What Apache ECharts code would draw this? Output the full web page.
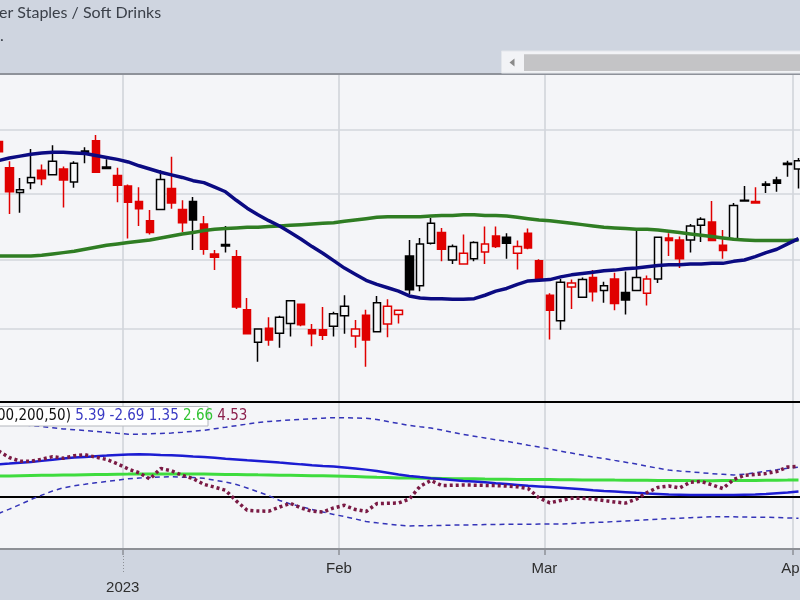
<!DOCTYPE html>
<html><head><meta charset="utf-8">
<script src="https://cdn.jsdelivr.net/npm/echarts@6/dist/echarts.min.js"></script>
<style>html,body{margin:0;padding:0;background:#cfd5e0}#c{width:800px;height:600px}</style>
</head><body><div id="c"></div>
<script>
// ---------------- data ----------------
const dates = [
 '2022-12-14','2022-12-15','2022-12-16','2022-12-19','2022-12-20','2022-12-21','2022-12-22','2022-12-23','2022-12-27','2022-12-28','2022-12-29','2022-12-30',
 '2023-01-03','2023-01-04','2023-01-05','2023-01-06','2023-01-09','2023-01-10','2023-01-11','2023-01-12','2023-01-13','2023-01-17','2023-01-18','2023-01-19','2023-01-20','2023-01-23','2023-01-24','2023-01-25','2023-01-26','2023-01-27','2023-01-30','2023-01-31',
 '2023-02-01','2023-02-02','2023-02-03','2023-02-06','2023-02-07','2023-02-08','2023-02-09','2023-02-10','2023-02-13','2023-02-14','2023-02-15','2023-02-16','2023-02-17','2023-02-21','2023-02-22','2023-02-23','2023-02-24','2023-02-27','2023-02-28',
 '2023-03-01','2023-03-02','2023-03-03','2023-03-06','2023-03-07','2023-03-08','2023-03-09','2023-03-10','2023-03-13','2023-03-14','2023-03-15','2023-03-16','2023-03-17','2023-03-20','2023-03-21','2023-03-22','2023-03-23','2023-03-24','2023-03-27','2023-03-28','2023-03-29','2023-03-30','2023-03-31',
 '2023-04-03'
];
const opens = [35.81,35.40,35.02,35.17,35.36,35.29,35.38,35.18,35.66,35.82,35.39,35.28,
 35.12,34.88,34.59,34.76,35.08,34.76,34.88,34.54,34.09,34.21,34.05,33.27,32.80,33.00,32.93,33.07,33.35,32.98,32.98,33.03,
 33.18,32.89,33.19,32.95,33.06,33.20,34.06,33.62,34.25,34.41,34.00,33.94,34.02,34.12,34.36,34.34,34.10,34.40,33.99,
 33.48,33.11,33.60,33.45,33.74,33.55,33.72,33.52,33.55,33.51,33.72,34.33,34.30,34.30,34.52,34.57,34.22,34.31,34.89,34.88,35.13,35.21,35.45,
 35.38];
const highs = [35.88,35.50,35.24,35.69,35.45,35.75,35.42,35.50,35.72,35.91,35.53,35.40,
 35.14,35.10,34.75,35.36,35.57,34.90,34.95,34.66,34.15,34.51,34.15,33.44,32.99,33.16,33.18,33.40,33.35,33.06,33.31,33.24,
 33.48,33.12,33.27,33.47,33.42,33.26,34.30,34.33,34.63,34.48,34.23,34.38,34.28,34.50,34.50,34.40,34.29,34.47,34.01,
 33.51,33.72,33.71,33.74,33.85,33.68,33.81,33.83,34.44,33.77,34.34,34.40,34.35,34.54,34.64,34.89,34.45,34.86,35.12,35.10,35.19,35.26,35.51,
 35.55];
const lows = [35.60,34.69,34.71,35.07,35.13,35.29,34.79,35.09,35.47,35.33,35.39,34.87,
 34.32,34.51,34.38,34.76,34.77,34.42,34.15,34.08,33.85,34.11,33.28,32.92,32.52,32.75,32.72,32.88,33.03,32.74,32.83,32.88,
 32.92,32.72,32.45,32.95,32.87,33.07,33.50,33.54,34.23,33.98,33.94,33.93,33.98,33.94,34.18,34.02,33.86,34.16,33.68,
 32.84,32.98,33.28,33.45,33.39,33.37,33.26,33.20,33.55,33.33,33.66,34.06,33.88,34.11,34.27,34.29,34.02,34.29,34.89,34.86,35.01,35.03,35.26,
 35.08];
const closes = [35.65,35.03,35.06,35.25,35.23,35.50,35.21,35.47,35.62,35.33,35.41,35.13,
 34.87,34.77,34.41,35.22,34.86,34.56,34.60,34.16,34.04,34.23,33.31,32.92,32.99,32.83,33.16,33.40,33.05,32.92,32.90,33.21,
 33.32,32.99,32.83,33.37,33.32,33.26,33.56,34.24,34.55,34.16,34.20,34.10,34.26,34.24,34.20,34.25,34.20,34.18,33.72,
 33.26,33.67,33.66,33.71,33.53,33.62,33.36,33.41,33.74,33.72,34.34,34.29,34.02,34.51,34.61,34.29,34.14,34.82,34.90,34.86,35.15,35.16,35.47,
 35.51];
const priorClose = 35.85;
const ma50 = [35.51,35.55,35.58,35.61,35.63,35.64,35.64,35.63,35.62,35.59,
 35.56,35.53,35.49,35.43,35.38,35.33,35.29,35.25,35.20,35.17,
 35.10,35.03,34.90,34.78,34.68,34.59,34.51,34.41,34.31,34.20,
 34.10,33.99,33.88,33.79,33.70,33.64,33.59,33.54,33.47,33.44,
 33.43,33.43,33.42,33.42,33.43,33.48,33.54,33.58,33.64,33.69,
 33.70,33.71,33.75,33.78,33.80,33.82,33.84,33.85,33.87,33.88,
 33.90,33.92,33.93,33.93,33.94,33.94,33.95,33.95,33.98,34.00,
 34.05,34.11,34.16,34.24,34.32];
const ma200 = [34.06,34.06,34.06,34.06,34.07,34.09,34.11,34.13,34.16,34.19,
 34.22,34.24,34.26,34.28,34.30,34.33,34.36,34.39,34.41,34.44,
 34.46,34.47,34.48,34.49,34.49,34.50,34.51,34.52,34.53,34.54,
 34.55,34.56,34.58,34.60,34.62,34.64,34.65,34.65,34.65,34.65,
 34.66,34.67,34.67,34.68,34.68,34.67,34.67,34.66,34.64,34.62,
 34.60,34.59,34.57,34.55,34.53,34.51,34.49,34.48,34.47,34.46,
 34.46,34.45,34.43,34.41,34.39,34.37,34.35,34.33,34.31,34.30,
 34.29,34.29,34.29,34.29,34.30];
const indUpper = [10.71,10.54,10.37,10.20,10.06,9.90,9.73,9.60,9.50,9.37,
 9.24,9.10,8.97,8.97,9.03,9.07,9.14,9.24,9.39,9.53,
 9.76,9.97,10.19,10.41,10.64,10.79,10.90,11.01,11.10,11.17,
 11.26,11.33,11.31,11.29,11.24,11.07,10.79,10.50,10.23,10.04,
 9.86,9.57,9.24,8.94,8.69,8.43,8.17,7.96,7.69,7.40,
 7.13,6.86,6.54,6.27,5.99,5.71,5.50,5.23,4.97,4.71,
 4.40,4.11,3.84,3.71,3.60,3.46,3.34,3.24,3.14,3.26,
 3.46,3.71,3.90,4.10,4.26];
const indLower = [-2.36,-1.74,-1.07,-0.37,0.26,0.86,1.31,1.60,1.81,2.03,
 2.21,2.40,2.60,2.71,2.79,2.86,2.89,2.83,2.79,2.67,
 2.40,2.14,1.79,1.29,0.74,0.19,-0.50,-1.00,-1.36,-1.80,
 -2.14,-2.49,-2.80,-3.14,-3.50,-3.69,-3.86,-4.03,-4.14,-4.11,
 -4.09,-4.06,-4.01,-4.00,-3.97,-3.94,-3.93,-3.90,-3.90,-3.89,
 -3.87,-3.86,-3.86,-3.79,-3.71,-3.64,-3.59,-3.50,-3.43,-3.34,
 -3.26,-3.19,-3.10,-3.03,-2.96,-2.89,-2.83,-2.83,-2.84,-2.86,
 -2.89,-2.90,-2.94,-2.99,-3.04];
const indMid = [4.66,4.77,4.89,5.00,5.16,5.31,5.49,5.63,5.73,5.83,
 5.91,6.00,6.07,6.09,6.06,6.01,5.97,5.90,5.80,5.71,
 5.60,5.47,5.36,5.24,5.14,5.03,4.91,4.80,4.66,4.54,
 4.43,4.34,4.21,4.07,3.91,3.71,3.47,3.20,3.00,2.84,
 2.69,2.56,2.44,2.30,2.20,2.09,1.97,1.86,1.73,1.60,
 1.51,1.41,1.31,1.20,1.09,0.97,0.87,0.79,0.69,0.59,
 0.51,0.44,0.37,0.33,0.29,0.29,0.29,0.29,0.29,0.33,
 0.37,0.43,0.54,0.64,0.77];
const indSignal = [3.00,3.01,3.04,3.07,3.09,3.11,3.13,3.14,3.17,3.20,
 3.23,3.26,3.27,3.29,3.29,3.29,3.29,3.29,3.29,3.29,
 3.26,3.23,3.21,3.19,3.16,3.14,3.11,3.09,3.07,3.04,
 3.03,3.00,2.96,2.91,2.86,2.81,2.77,2.71,2.70,2.67,
 2.66,2.64,2.61,2.60,2.59,2.56,2.54,2.53,2.51,2.50,
 2.49,2.49,2.47,2.46,2.44,2.43,2.43,2.41,2.40,2.39,
 2.39,2.37,2.36,2.36,2.34,2.33,2.33,2.34,2.34,2.36,
 2.37,2.39,2.40,2.41,2.43];
const indLine = [6.57,5.64,5.11,5.11,5.40,5.76,5.54,5.89,6.03,5.69,
 5.36,4.74,4.00,3.46,2.57,4.07,3.74,3.09,2.64,1.80,
 1.40,0.96,-0.57,-1.89,-2.00,-2.03,-1.43,-0.91,-1.57,-2.04,
 -2.14,-1.57,-1.19,-1.79,-2.07,-0.94,-0.90,-0.86,-0.29,1.53,
 2.36,1.64,1.67,1.71,1.69,1.66,1.63,1.57,1.46,1.20,
 -0.14,-0.83,-0.50,-0.19,-0.19,-0.29,-0.51,-0.71,-0.87,-0.31,
 0.64,1.37,1.56,1.29,2.11,2.21,1.74,1.21,2.49,3.09,
 3.21,3.37,3.64,4.29,4.36];
const priceGridLevels = [33, 34, 35, 36];
const indicatorRefLevels = [0];
const monthNames = ['Jan','Feb','Mar','Apr','May','Jun','Jul','Aug','Sep','Oct','Nov','Dec'];
const titleText = 'er Staples / Soft Drinks';
const legendPrefix = '00,200,50)';
const legendValues = ['5.39', '-2.69', '1.35', '2.66', '4.53'];

// ---------------- layout / style ----------------
const GRID_LEFT = -6.9, GRID_W = 810.8;
const RED = '#e00000', BLACK = '#000000', HOLLOW = '#f7f8fa';
const monthStarts = new Set();
dates.forEach((d, i) => { if (i > 0 && d.slice(5, 7) !== dates[i - 1].slice(5, 7)) monthStarts.add(i); });
const isMonthStart = (i) => monthStarts.has(i);
const yearStarts = [...monthStarts].filter(i => dates[i].slice(0, 4) !== dates[i - 1].slice(0, 4));

const candleData = dates.map((d, i) => {
  const o = opens[i], c = closes[i];
  const pc = i === 0 ? priorClose : closes[i - 1];
  const col = c >= pc ? BLACK : RED;
  const fill = c > o ? HOLLOW : col;
  return { value: [o, c, lows[i], highs[i]],
    itemStyle: { color: fill, color0: fill, borderColor: col, borderColor0: col } };
});

const splitLineStyle = { show: true, interval: (i) => isMonthStart(i), lineStyle: { color: '#cfd2d8', width: 1.5 } };

const legendColors = ['b', 'b', 'b', 'g', 'm'];
const legendText = '{k|' + legendPrefix + '} ' + legendValues.map((v, i) => '{' + legendColors[i] + '|' + v + '}').join(' ');
const NARROW = '15px "Liberation Sans Narrow", "Arial Narrow", "DejaVu Sans Condensed", sans-serif';

const chart = echarts.init(document.getElementById('c'), null, { renderer: 'canvas', width: 800, height: 600 });
const graphics = [
  { type: 'line', shape: { x1: 0, y1: 74, x2: 800, y2: 74 }, style: { stroke: '#8e929a', lineWidth: 2 }, z: 50 },
  { type: 'rect', shape: { x: 501.5, y: 51, width: 300, height: 22 }, style: { fill: '#f2f3f6', stroke: '#e3e6eb', lineWidth: 1 }, z: 50 },
  { type: 'polygon', shape: { points: [[514.5, 58.5], [514.5, 66.5], [509.5, 62.5]] }, style: { fill: '#8a8a8a' }, z: 51 },
  { type: 'rect', shape: { x: 524, y: 54.3, width: 280, height: 16.7 }, style: { fill: '#c4c4c6' }, z: 51 },
  { type: 'text', x: -1, y: 13, style: { text: titleText, font: '16px Lato, sans-serif', fill: '#3b4049', verticalAlign: 'middle', align: 'left' }, z: 50 },
  { type: 'text', x: 0, y: 36, style: { text: '.', font: '16px Lato, sans-serif', fill: '#3b4049', verticalAlign: 'middle', align: 'left' }, z: 50 },
  { type: 'rect', shape: { x: -4, y: 406.5, width: 212, height: 19.5 }, style: { fill: '#ffffff', stroke: '#b4b7bd', lineWidth: 1 }, z: 60 },
  { type: 'text', x: -3, y: 416.5, z: 61,
    style: { text: legendText, verticalAlign: 'middle', align: 'left', font: NARROW, fill: '#111',
      rich: {
        k: { fill: '#111', font: NARROW },
        b: { fill: '#3a3ac4', font: NARROW },
        g: { fill: '#33c433', font: NARROW },
        m: { fill: '#8a1f4c', font: NARROW }
      } } }
];
const option = {
  animation: false,
  backgroundColor: '#cfd5e0',
  grid: [
    { left: GRID_LEFT, width: GRID_W, top: 75, height: 327, show: true, backgroundColor: '#f4f5f8', borderWidth: 0,
      containLabel: false, outerBoundsMode: 'none' },
    { left: GRID_LEFT, width: GRID_W, top: 402, height: 147, show: true, backgroundColor: '#f4f5f8', borderWidth: 0,
      containLabel: false, outerBoundsMode: 'none' }
  ],
  xAxis: [
    { type: 'category', gridIndex: 0, data: dates,
      axisLine: { show: true, onZero: false, lineStyle: { color: '#000', width: 2 } },
      axisTick: { show: false }, axisLabel: { show: false }, splitLine: splitLineStyle },
    { type: 'category', gridIndex: 1, data: dates,
      axisLine: { show: true, onZero: false, lineStyle: { color: '#8d9096', width: 2 } },
      axisTick: { show: true, interval: (i) => isMonthStart(i), length: 6, lineStyle: { color: '#8d9096', width: 1.5 } },
      axisLabel: { show: true, interval: (i) => isMonthStart(i),
        formatter: (v) => { const m = parseInt(v.slice(5, 7), 10) - 1; return m === 0 ? '\n' + v.slice(0, 4) : monthNames[m]; },
        color: '#2e2e2e', fontSize: 15, fontFamily: '"Liberation Sans", Arial, sans-serif',
        margin: 10, lineHeight: 19, padding: [0, 11, 0, 0], hideOverlap: false },
      splitLine: splitLineStyle }
  ],
  yAxis: [
    { type: 'log', gridIndex: 0, min: 31.953, max: 36.865,
      axisLine: { show: false }, axisTick: { show: false }, axisLabel: { show: false }, splitLine: { show: false } },
    { type: 'value', gridIndex: 1, min: -7.43, max: 13.57,
      axisLine: { show: false }, axisTick: { show: false }, axisLabel: { show: false }, splitLine: { show: false } }
  ],
  series: [
    { type: 'candlestick', xAxisIndex: 0, yAxisIndex: 0, data: candleData, barWidth: 8, z: 2,
      itemStyle: { borderWidth: 1.5 },
      markLine: { silent: true, symbol: ['none', 'none'], z: 1, label: { show: false },
        lineStyle: { color: '#d3d6dc', width: 1.5, type: 'solid' },
        data: priceGridLevels.map(v => ({ yAxis: v })) } },
    { type: 'line', xAxisIndex: 0, yAxisIndex: 0, data: ma200, showSymbol: false, z: 3,
      lineStyle: { color: '#2f7d23', width: 3.5 } },
    { type: 'line', xAxisIndex: 0, yAxisIndex: 0, data: ma50, showSymbol: false, z: 3,
      lineStyle: { color: '#0b0b82', width: 3.5 } },
    { type: 'line', xAxisIndex: 1, yAxisIndex: 1, data: indUpper, showSymbol: false, z: 2,
      lineStyle: { color: '#3434b8', width: 1.5, type: [5, 4] },
      markLine: { silent: true, symbol: ['none', 'none'], z: 1, label: { show: false },
        lineStyle: { color: '#000', width: 2, type: 'solid' },
        data: indicatorRefLevels.map(v => ({ yAxis: v })) } },
    { type: 'line', xAxisIndex: 1, yAxisIndex: 1, data: indLower, showSymbol: false, z: 2,
      lineStyle: { color: '#3434b8', width: 1.5, type: [5, 4] } },
    { type: 'line', xAxisIndex: 1, yAxisIndex: 1, data: indSignal, showSymbol: false, z: 2,
      lineStyle: { color: '#3edc3e', width: 3 } },
    { type: 'line', xAxisIndex: 1, yAxisIndex: 1, data: indMid, showSymbol: false, z: 3,
      lineStyle: { color: '#1c1cd2', width: 2.5 } },
    { type: 'line', xAxisIndex: 1, yAxisIndex: 1, data: indLine, showSymbol: false, z: 4,
      lineStyle: { color: '#7a1a44', width: 3.5, type: [3, 3] } }
  ],
  graphic: graphics
};
chart.setOption(option);

// dotted year-boundary tick extension, positioned through the axis scale
const extra = yearStarts.map(i => {
  const a = chart.convertToPixel({ xAxisIndex: 1 }, dates[i]);
  const b = chart.convertToPixel({ xAxisIndex: 1 }, dates[i - 1]);
  const x = Math.round((a + b) / 2) + 0.5;
  return { type: 'line', shape: { x1: x, y1: 556, x2: x, y2: 574 }, style: { stroke: '#8d9096', lineWidth: 1, lineDash: [1, 2] }, z: 50 };
});
chart.setOption({ graphic: graphics.concat(extra) });
</script>
</body></html>
